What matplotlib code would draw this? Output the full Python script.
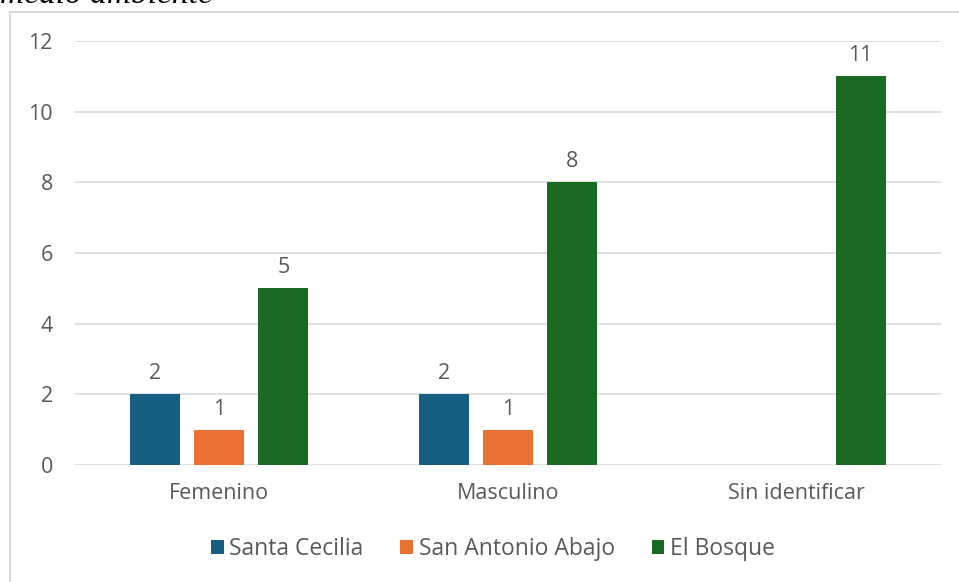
import numpy as np
import matplotlib.pyplot as plt
from matplotlib.patches import Rectangle

categories = ['Femenino', 'Masculino', 'Sin identificar']
series = ['Santa Cecilia', 'San Antonio Abajo', 'El Bosque']
values = {
    'Santa Cecilia': [2, 2, np.nan],
    'San Antonio Abajo': [1, 1, np.nan],
    'El Bosque': [5, 8, 11],
}
colors = ['#156082', '#e97132', '#196b24']

plt.rcParams['font.family'] = ['Open Sans', 'DejaVu Sans']
text_col = '#595959'
fs = 15.5

fig = plt.figure(figsize=(9.59, 5.82), dpi=100)
ax = fig.add_axes([75 / 959, 1 - 465 / 582, 866 / 959, 424 / 582])

x = np.arange(len(categories))
width = 0.173
step = 0.222
for i, name in enumerate(series):
    vals = np.array(values[name], dtype=float)
    pos = x + (i - 1) * step
    ax.bar(pos, vals, width, color=colors[i], label=name, zorder=3)
    for p, v in zip(pos, vals):
        if not np.isnan(v):
            ax.text(p, v + 0.28, f'{v:g}', ha='center', va='bottom',
                    fontsize=fs, color=text_col)

ax.set_xlim(-0.5, 2.5)
ax.set_ylim(0, 12)
ax.set_yticks(range(0, 13, 2))
ax.set_xticks(x)
ax.set_xticklabels(categories)
ax.tick_params(axis='both', length=0, labelsize=fs, labelcolor=text_col)
ax.tick_params(axis='x', pad=13)
ax.tick_params(axis='y', pad=16)
ax.grid(axis='y', color='#d9d9d9', linewidth=1.2, zorder=0)
for s in ax.spines.values():
    s.set_visible(False)

ax.legend(loc='center', bbox_to_anchor=(493 / 959, 1 - 549 / 582),
          bbox_transform=fig.transFigure, ncol=3, frameon=False,
          fontsize=16.5, labelcolor=text_col, handlelength=0.55,
          handleheight=0.55, handletextpad=0.25, columnspacing=1.6)

# outer chart border
fig.patches.append(Rectangle((10 / 959, -0.1), 2, 1.1 - 12 / 582,
                             transform=fig.transFigure, fill=False,
                             edgecolor='#d9d9d9', linewidth=1.5))

fig.text(0.0, 1 - 3 / 582, 'medio ambiente', family='Liberation Serif',
         style='italic', fontsize=24, va='baseline', ha='left', color='black')

fig.savefig('out.png', dpi=100)
